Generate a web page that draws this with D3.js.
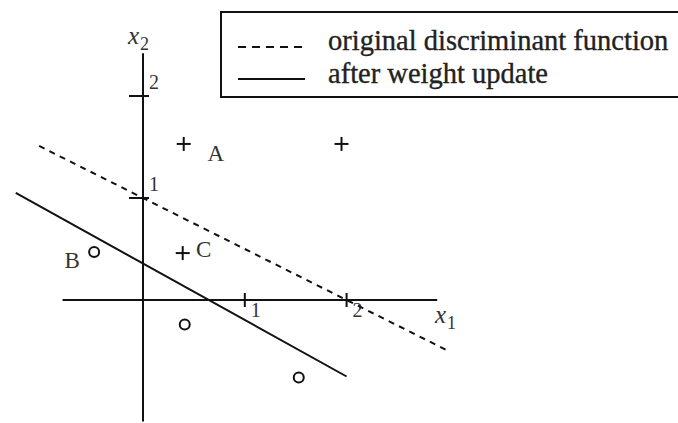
<!DOCTYPE html>
<html>
<head>
<meta charset="utf-8">
<script src="https://cdn.jsdelivr.net/npm/d3@7/dist/d3.min.js"></script>
<style>
  html, body { margin: 0; padding: 0; background: #fff; }
  svg { display: block; font-family: "Liberation Serif", "DejaVu Serif", serif; }
</style>
</head>
<body>
<svg id="chart" width="678" height="423"></svg>
<script>
// Training points in the (x1, x2) plane
const plusPoints = [
  { x1: 0.40, x2: 1.53, label: "A" },
  { x1: 1.95, x2: 1.53, label: "" },
  { x1: 0.39, x2: 0.46, label: "C" }
];
const circlePoints = [
  { x1: -0.48, x2: 0.47, label: "B" },
  { x1: 0.41, x2: -0.24, label: "" },
  { x1: 1.53, x2: -0.76, label: "" }
];

// Decision boundaries: original x2 = 1 - x1/2, updated one after the weight step
const originalLine = [ { x1: -1.02, x2: 1.51 }, { x1: 3.00, x2: -0.50 } ];
const updatedLine  = [ { x1: -1.25, x2: 1.05 }, { x1: 2.00, x2: -0.75 } ];

// Axis extents and ticks
const x1Extent = [-0.79, 2.89];
const x2Extent = [-1.19, 2.42];
const x1Ticks = [1, 2];
const x2Ticks = [1, 2];

const legendItems = [
  { text: "original discriminant function", dashed: true },
  { text: "after weight update", dashed: false }
];

const svg = d3.select("#chart");

const x = d3.scaleLinear().domain([0, 2]).range([143, 346.6]);
const y = d3.scaleLinear().domain([0, 2]).range([300, 96]);

const ink = "#111";

// Axes through the origin
svg.append("line")
  .attr("x1", x(x1Extent[0])).attr("x2", x(x1Extent[1]))
  .attr("y1", y(0)).attr("y2", y(0))
  .attr("stroke", ink).attr("stroke-width", 2);
svg.append("line")
  .attr("x1", x(0)).attr("x2", x(0))
  .attr("y1", y(x2Extent[0])).attr("y2", y(x2Extent[1]))
  .attr("stroke", ink).attr("stroke-width", 2);

// Tick marks crossing the axes
svg.selectAll(".xtick").data(x1Ticks).join("line")
  .attr("x1", d => x(d)).attr("x2", d => x(d))
  .attr("y1", y(0) - 7).attr("y2", y(0) + 7)
  .attr("stroke", ink).attr("stroke-width", 2);
svg.selectAll(".ytick").data(x2Ticks).join("line")
  .attr("x1", x(0) - 14).attr("x2", x(0) + 6)
  .attr("y1", d => y(d)).attr("y2", d => y(d))
  .attr("stroke", ink).attr("stroke-width", 2);

// Tick labels
svg.selectAll(".xtl").data(x1Ticks).join("text")
  .attr("x", d => x(d) + 11).attr("y", y(0) + 17)
  .attr("text-anchor", "middle")
  .attr("font-size", 20).attr("fill", "#333")
  .text(d => d);
svg.selectAll(".ytl").data(x2Ticks).join("text")
  .attr("x", x(0) + 6).attr("y", d => y(d) - 7)
  .attr("font-size", 20).attr("fill", "#333")
  .text(d => d);

// Axis titles with subscripts
function axisTitle(px, py, sub) {
  const t = svg.append("text").attr("x", px).attr("y", py).attr("fill", "#333");
  t.append("tspan").attr("font-style", "italic").attr("font-size", 25).text("x");
  t.append("tspan").attr("font-size", 18).attr("dx", 1).attr("dy", 6).text(sub);
}
axisTitle(128, 44, "2");
axisTitle(435, 323, "1");

// Boundary lines
const lineGen = d3.line().x(d => x(d.x1)).y(d => y(d.x2));
svg.append("path").datum(originalLine)
  .attr("d", lineGen).attr("fill", "none")
  .attr("stroke", ink).attr("stroke-width", 2)
  .attr("stroke-dasharray", "6,5.5");
svg.append("path").datum(updatedLine)
  .attr("d", lineGen).attr("fill", "none")
  .attr("stroke", ink).attr("stroke-width", 2);

// Plus markers
const pg = svg.append("g");
plusPoints.forEach(p => {
  const cx = x(p.x1), cy = y(p.x2);
  pg.append("line").attr("x1", cx - 7).attr("x2", cx + 7).attr("y1", cy).attr("y2", cy)
    .attr("stroke", ink).attr("stroke-width", 2);
  pg.append("line").attr("x1", cx).attr("x2", cx).attr("y1", cy - 7).attr("y2", cy + 7)
    .attr("stroke", ink).attr("stroke-width", 2);
});

// Circle markers
svg.selectAll(".pt-o").data(circlePoints).join("circle")
  .attr("cx", d => x(d.x1)).attr("cy", d => y(d.x2)).attr("r", 5)
  .attr("fill", "none").attr("stroke", ink).attr("stroke-width", 2);

// Point labels
const labelOffset = { A: [32, 9], B: [-22, 8], C: [21, -4] };
const labelled = plusPoints.concat(circlePoints).filter(d => d.label);
svg.selectAll(".plabel").data(labelled).join("text")
  .attr("x", d => x(d.x1) + labelOffset[d.label][0])
  .attr("y", d => y(d.x2) + labelOffset[d.label][1] + 8)
  .attr("text-anchor", "middle")
  .attr("font-size", 23).attr("fill", "#333")
  .text(d => d.label);

// Legend box
const lg = svg.append("g");
lg.append("rect")
  .attr("x", 221).attr("y", 12).attr("width", 470).attr("height", 85)
  .attr("fill", "#fff").attr("stroke", ink).attr("stroke-width", 2);
legendItems.forEach((item, i) => {
  const ly = 47 + i * 32;
  lg.append("line")
    .attr("x1", 238).attr("x2", 305).attr("y1", ly).attr("y2", ly)
    .attr("stroke", ink).attr("stroke-width", 2)
    .attr("stroke-dasharray", item.dashed ? "8,6" : null);
  lg.append("text")
    .attr("x", 328).attr("y", ly + 4 + (i === 1 ? 0 : -1))
    .attr("font-size", 28.5).attr("fill", "#222")
    .attr("stroke", "#222").attr("stroke-width", 0.35)
    .text(item.text);
});
</script>
</body>
</html>
